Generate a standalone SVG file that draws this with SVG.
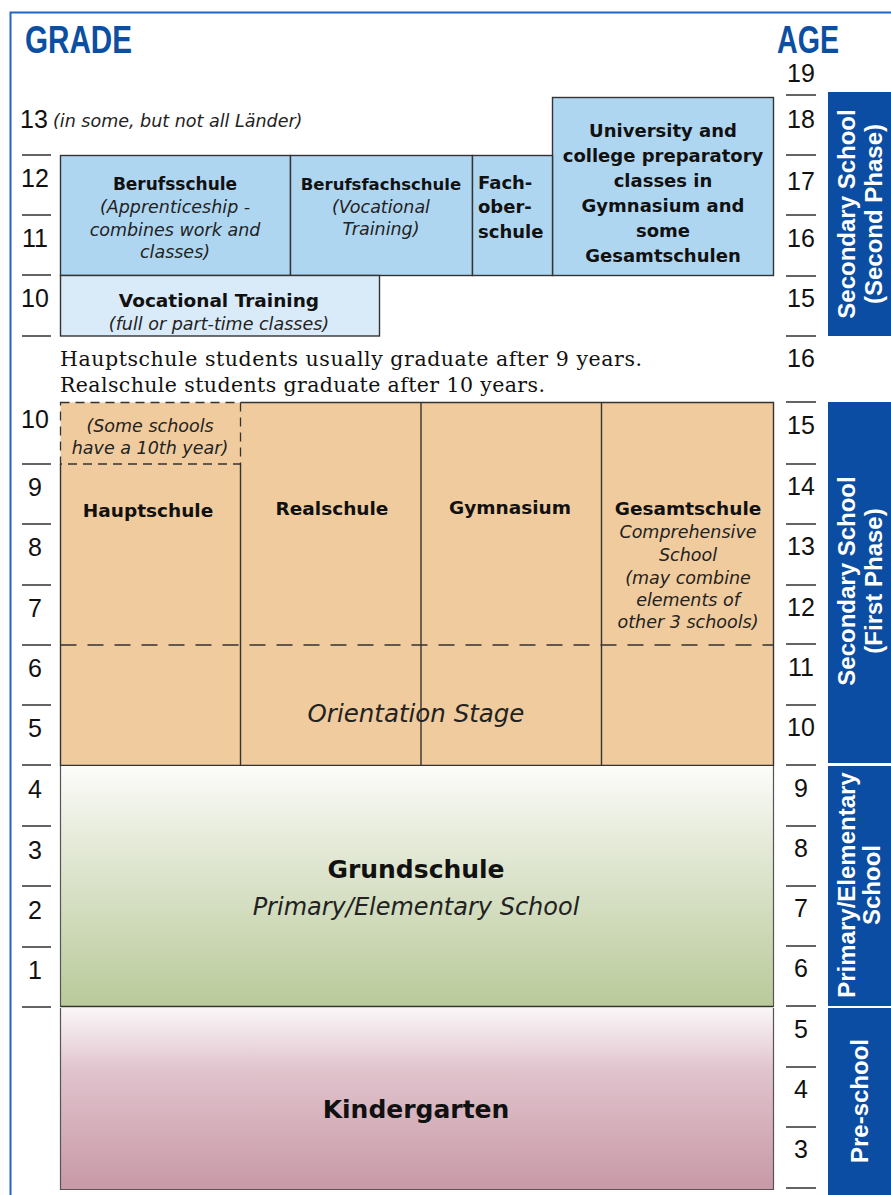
<svg xmlns="http://www.w3.org/2000/svg" width="891" height="1195" viewBox="0 0 891 1195">
<defs>
<linearGradient id="gGreen" x1="0" y1="0" x2="0" y2="1">
<stop offset="0" stop-color="#fcfcfa"/>
<stop offset="0.3" stop-color="#e6ebda"/>
<stop offset="1" stop-color="#b9ca9a"/>
</linearGradient>
<linearGradient id="gPink" x1="0" y1="0" x2="0" y2="1">
<stop offset="0" stop-color="#faf6f8"/>
<stop offset="0.35" stop-color="#e0c3cc"/>
<stop offset="1" stop-color="#c899a7"/>
</linearGradient>
</defs>
<style>
.num{font-family:"Liberation Sans",Arial,sans-serif;font-size:25px;fill:#111;text-anchor:middle}
.tick{stroke:#222;stroke-width:1.4}
.hdr{font-family:"Liberation Sans",Arial,sans-serif;font-weight:bold;font-size:39px;fill:#0b4fa3}
.box{stroke:#333;stroke-width:1.4}
.b{font-family:"DejaVu Sans",Verdana,sans-serif;font-weight:bold;font-size:18px;fill:#111;text-anchor:middle}
.i{font-family:"DejaVu Sans",Verdana,sans-serif;font-style:italic;font-size:17.5px;fill:#222;text-anchor:middle}
.side{font-family:"Liberation Sans",Arial,sans-serif;font-weight:bold;font-size:24px;fill:#fff;text-anchor:middle}
.note{font-family:"DejaVu Serif","Liberation Serif",serif;font-size:20.5px;fill:#111}
.bar{fill:#0b4da2}
</style>
<rect x="0" y="0" width="891" height="1195" fill="#fff"/>
<path d="M10.5 1195 V12.5 H891" fill="none" stroke="#2763c4" stroke-width="2"/>

<g id="headers">
<text class="hdr" x="25" y="52.5" textLength="107" lengthAdjust="spacingAndGlyphs">GRADE</text>
<text class="hdr" x="777" y="52.5" textLength="62" lengthAdjust="spacingAndGlyphs">AGE</text>
</g>

<g id="grade-scale">
<g class="tick">
<line x1="22" y1="155" x2="51" y2="155"/><line x1="22" y1="215" x2="51" y2="215"/><line x1="22" y1="275" x2="51" y2="275"/><line x1="22" y1="336" x2="51" y2="336"/>
<line x1="22" y1="464" x2="51" y2="464"/><line x1="22" y1="524" x2="51" y2="524"/><line x1="22" y1="585" x2="51" y2="585"/><line x1="22" y1="645" x2="51" y2="645"/><line x1="22" y1="705" x2="51" y2="705"/><line x1="22" y1="765" x2="51" y2="765"/>
<line x1="22" y1="826" x2="51" y2="826"/><line x1="22" y1="886" x2="51" y2="886"/><line x1="22" y1="947" x2="51" y2="947"/><line x1="22" y1="1007" x2="51" y2="1007"/>
</g>
<text class="num" x="20" y="128" style="text-anchor:start">13</text>
<text class="i" x="53" y="127" style="text-anchor:start">(in some, but not all Länder)</text>
<text class="num" x="35" y="187">12</text>
<text class="num" x="35" y="247">11</text>
<text class="num" x="35" y="307">10</text>
<text class="num" x="35" y="428">10</text>
<text class="num" x="35" y="496">9</text>
<text class="num" x="35" y="556">8</text>
<text class="num" x="35" y="617">7</text>
<text class="num" x="35" y="677">6</text>
<text class="num" x="35" y="737">5</text>
<text class="num" x="35" y="798">4</text>
<text class="num" x="35" y="859">3</text>
<text class="num" x="35" y="919">2</text>
<text class="num" x="35" y="979">1</text>
</g>

<g id="age-scale">
<g class="tick">
<line x1="786" y1="95" x2="816" y2="95"/><line x1="786" y1="155" x2="816" y2="155"/><line x1="786" y1="215" x2="816" y2="215"/><line x1="786" y1="276" x2="816" y2="276"/><line x1="786" y1="336" x2="816" y2="336"/>
<line x1="786" y1="402" x2="816" y2="402"/><line x1="786" y1="464" x2="816" y2="464"/><line x1="786" y1="524" x2="816" y2="524"/><line x1="786" y1="585" x2="816" y2="585"/><line x1="786" y1="644" x2="816" y2="644"/><line x1="786" y1="705" x2="816" y2="705"/><line x1="786" y1="765" x2="816" y2="765"/>
<line x1="786" y1="826" x2="816" y2="826"/><line x1="786" y1="886" x2="816" y2="886"/><line x1="786" y1="946" x2="816" y2="946"/><line x1="786" y1="1006" x2="816" y2="1006"/><line x1="786" y1="1067" x2="816" y2="1067"/><line x1="786" y1="1127" x2="816" y2="1127"/><line x1="786" y1="1188" x2="816" y2="1188"/>
</g>
<text class="num" x="801" y="82">19</text>
<text class="num" x="801" y="128">18</text>
<text class="num" x="801" y="190">17</text>
<text class="num" x="801" y="247">16</text>
<text class="num" x="801" y="307">15</text>
<text class="num" x="801" y="367">16</text>
<text class="num" x="801" y="434">15</text>
<text class="num" x="801" y="495">14</text>
<text class="num" x="801" y="555">13</text>
<text class="num" x="801" y="616">12</text>
<text class="num" x="801" y="676">11</text>
<text class="num" x="801" y="736">10</text>
<text class="num" x="801" y="797">9</text>
<text class="num" x="801" y="857">8</text>
<text class="num" x="801" y="917">7</text>
<text class="num" x="801" y="977">6</text>
<text class="num" x="801" y="1038">5</text>
<text class="num" x="801" y="1098">4</text>
<text class="num" x="801" y="1158">3</text>
</g>

<g id="side-secondary-2">
<rect class="bar" x="828" y="92" width="63" height="244"/>
<text class="side" transform="translate(855,214) rotate(-90)">Secondary School</text>
<text class="side" transform="translate(882,214) rotate(-90)">(Second Phase)</text>
</g>
<g id="side-secondary-1">
<rect class="bar" x="828" y="402" width="63" height="361"/>
<text class="side" transform="translate(855,581) rotate(-90)">Secondary School</text>
<text class="side" transform="translate(882,581) rotate(-90)">(First Phase)</text>
</g>
<g id="side-primary">
<rect class="bar" x="828" y="766" width="63" height="240"/>
<text class="side" transform="translate(855,885) rotate(-90)">Primary/Elementary</text>
<text class="side" transform="translate(880,885) rotate(-90)">School</text>
</g>
<g id="side-preschool">
<rect class="bar" x="828" y="1008" width="63" height="187"/>
<text class="side" transform="translate(868,1101) rotate(-90)">Pre-school</text>
</g>

<g id="university">
<rect class="box" x="552.5" y="97.5" width="221" height="178" fill="#afd6f1"/>
<text class="b" x="663" y="137">University and</text>
<text class="b" x="663" y="162">college preparatory</text>
<text class="b" x="663" y="187">classes in</text>
<text class="b" x="663" y="212">Gymnasium and</text>
<text class="b" x="663" y="237">some</text>
<text class="b" x="663" y="262">Gesamtschulen</text>
</g>
<g id="berufsschule">
<rect class="box" x="60.5" y="155.5" width="230" height="120" fill="#afd6f1"/>
<text class="b" x="175" y="190" style="font-size:17px">Berufsschule</text>
<text class="i" x="175" y="213">(Apprenticeship -</text>
<text class="i" x="175" y="236">combines work and</text>
<text class="i" x="175" y="258">classes)</text>
</g>
<g id="berufsfachschule">
<rect class="box" x="290.5" y="155.5" width="182" height="120" fill="#afd6f1"/>
<text class="b" x="381" y="190" style="font-size:16.5px">Berufsfachschule</text>
<text class="i" x="381" y="213">(Vocational</text>
<text class="i" x="381" y="235">Training)</text>
</g>
<g id="fachoberschule">
<rect class="box" x="472.5" y="155.5" width="80" height="120" fill="#afd6f1"/>
<text class="b" x="478" y="189" style="text-anchor:start">Fach-</text>
<text class="b" x="478" y="213" style="text-anchor:start">ober-</text>
<text class="b" x="478" y="238" style="text-anchor:start">schule</text>
</g>
<g id="vocational-training">
<rect class="box" x="60.5" y="275.5" width="319" height="60.5" fill="#d9eaf8"/>
<text class="b" x="219" y="307" style="font-size:18.5px">Vocational Training</text>
<text class="i" x="219" y="330">(full or part-time classes)</text>
</g>

<g id="note">
<text class="note" x="60" y="366" textLength="582">Hauptschule students usually graduate after 9 years.</text>
<text class="note" x="60" y="392" textLength="485">Realschule students graduate after 10 years.</text>
</g>

<g id="secondary-first">
<rect x="60.5" y="402.5" width="713" height="363" fill="#f0cb9d"/>
<path class="box" d="M60.5 464 V765.5 H773.5 V402.5 H240.5 M240.5 464 V765.5 M421 402.5 V765.5 M601.5 402.5 V765.5" fill="none"/>
<path d="M60.5 402.5 H240.5 V464 H60.5 Z" fill="none" stroke="#333" stroke-width="1.3" stroke-dasharray="9 6"/>
<path d="M60.5 645 H773.5" fill="none" stroke="#333" stroke-width="1.3" stroke-dasharray="16 11"/>
</g>
<g id="hauptschule">
<text class="i" x="150" y="432">(Some schools</text>
<text class="i" x="150" y="454">have a 10th year)</text>
<text class="b" x="148" y="517" style="font-size:18.5px">Hauptschule</text>
</g>
<g id="realschule">
<text class="b" x="332" y="515" style="font-size:18.5px">Realschule</text>
</g>
<g id="gymnasium">
<text class="b" x="510" y="514" style="font-size:18.5px">Gymnasium</text>
</g>
<g id="gesamtschule">
<text class="b" x="688" y="515" style="font-size:18.5px">Gesamtschule</text>
<text class="i" x="688" y="538">Comprehensive</text>
<text class="i" x="688" y="561">School</text>
<text class="i" x="688" y="584">(may combine</text>
<text class="i" x="688" y="606">elements of</text>
<text class="i" x="688" y="628">other 3 schools)</text>
</g>
<g id="orientation-stage">
<text class="i" x="416" y="722" style="font-size:24.5px">Orientation Stage</text>
</g>

<g id="grundschule">
<rect x="60.5" y="766" width="713" height="240" fill="url(#gGreen)"/>
<path d="M60.5 766 V1006.5 H773.5 V766" fill="none" stroke="#555" stroke-width="1.2"/>
<path d="M60.5 1006.5 H773.5" stroke="#333" stroke-width="1.5"/>
<text class="b" x="416" y="878" style="font-size:25px">Grundschule</text>
<text class="i" x="416" y="915" style="font-size:24px">Primary/Elementary School</text>
</g>
<g id="kindergarten">
<rect x="60.5" y="1008" width="713" height="181" fill="url(#gPink)"/>
<path d="M60.5 1008 V1189.5 H773.5 V1008" fill="none" stroke="#555" stroke-width="1.2"/>
<text class="b" x="416" y="1118" style="font-size:25px">Kindergarten</text>
</g>
<g id="connectors"/>
</svg>
